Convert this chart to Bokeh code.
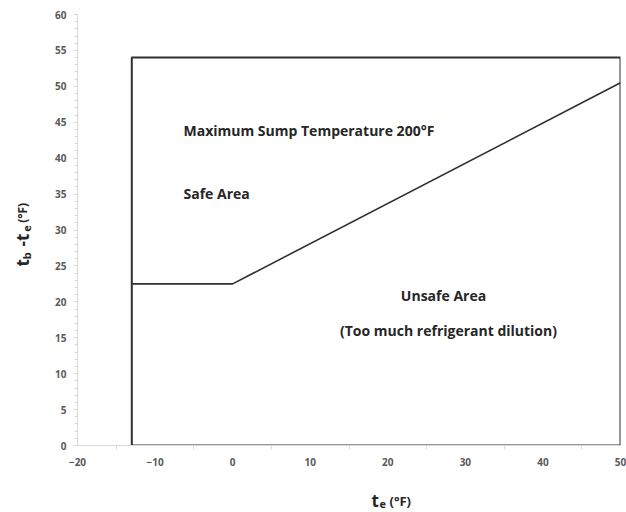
import math
from bokeh.plotting import figure
from bokeh.layouts import column, row
from bokeh.models import Range1d, FixedTicker, Label
from bokeh.core.properties import value
from bokeh.embed import file_html
from bokeh.resources import INLINE

# ---- data ----
x_ticks = [-20, -10, 0, 10, 20, 30, 40, 50]
x_minor = [-15, -5, 5, 15, 25, 35, 45]
y_ticks = [0, 5, 10, 15, 20, 25, 30, 35, 40, 45, 50, 55, 60]
y_minor = list(range(0, 61))

box_x = [-13, -13, 50, 50, -13]      # operating envelope (evaporator temp)
box_y = [0, 54, 54, 0, 0]            # tb - te limit: max sump temp 200F
limit_x = [-13, 0, 50]
limit_y = [22.5, 22.5, 50.5]

notes = ["Maximum Sump Temperature 200°F", "Safe Area", "Unsafe Area",
         "(Too much refrigerant dilution)"]

# ---- layout (page pixels) ----
PW, PH = 626, 512
YLW = 40            # width of y-label strip
MH = 472            # height of main figure
XLH = PH - MH       # height of x-label strip
MW = PW - YLW

FX0, FX1, FY0, FY1 = 77, 620, 14, 445   # frame edges on page
L = FX0 - YLW
R = PW - FX1
T = FY0
B = MH - FY1
X0, X1, Y0, Y1 = -20, 50, 0, 60
kx = (FX1 - FX0) / (X1 - X0)
ky = (FY1 - FY0) / (Y1 - Y0)


def dx(px):  # page px -> data x
    return X0 + (px - FX0) / kx


def dy(py):  # page py -> data y
    return Y0 + (FY1 - py) / ky


FONT = "Open Sans"
AX = "#d9d9d9"
TXT = "#595959"
NC = "#262626"

p = figure(width=MW, height=MH, x_range=Range1d(X0, X1), y_range=Range1d(Y0, Y1),
           output_backend="svg", toolbar_location=None,
           min_border_left=L, min_border_right=R, min_border_top=T, min_border_bottom=B)
p.outline_line_color = None
p.xgrid.visible = False
p.ygrid.visible = False
p.background_fill_color = "white"
p.border_fill_color = "white"

p.xaxis.ticker = FixedTicker(ticks=x_ticks, minor_ticks=x_minor)
p.yaxis.ticker = FixedTicker(ticks=y_ticks, minor_ticks=y_minor)
for ax in (p.xaxis, p.yaxis):
    ax.axis_line_color = AX
    ax.axis_line_width = 1
    ax.major_tick_line_color = AX
    ax.minor_tick_line_color = AX
    ax.major_tick_in = 0
    ax.minor_tick_in = 0
    ax.major_label_text_font = FONT
    ax.major_label_text_font_style = "bold"
    ax.major_label_text_font_size = "10px"
    ax.major_label_text_color = TXT
p.yaxis.major_tick_out = 4
p.yaxis.minor_tick_out = 3
p.xaxis.major_tick_out = 0
p.xaxis.minor_tick_out = 4
p.yaxis.major_label_standoff = 7
p.xaxis.major_label_standoff = 8

# envelope box and limit line
p.line(box_x, box_y, line_color="#303030", line_width=2)
p.line(limit_x, limit_y, line_color="#303030", line_width=1.6)

# annotations inside the frame
NS = "14px"
p.add_layout(Label(x=dx(183), y=dy(130), text=notes[0], text_font=FONT, text_font_style="bold",
                   text_font_size=NS, text_color=NC, text_baseline="middle", text_align="left"))
p.add_layout(Label(x=dx(183), y=dy(193), text=notes[1], text_font=FONT, text_font_style="bold",
                   text_font_size=NS, text_color=NC, text_baseline="middle", text_align="left"))
p.add_layout(Label(x=dx(443), y=dy(295), text=notes[2], text_font=FONT, text_font_style="bold",
                   text_font_size=NS, text_color=NC, text_baseline="middle", text_align="center"))
p.add_layout(Label(x=dx(448), y=dy(330), text=notes[3], text_font=FONT, text_font_style="bold",
                   text_font_size=NS, text_color=NC, text_baseline="middle", text_align="center"))


def strip(w, h):
    f = figure(width=w, height=h, x_range=Range1d(0, w), y_range=Range1d(0, h),
               output_backend="svg", toolbar_location=None,
               min_border=0, min_border_left=0, min_border_right=0,
               min_border_top=0, min_border_bottom=0)
    f.axis.visible = False
    f.xgrid.visible = False
    f.ygrid.visible = False
    f.outline_line_color = None
    f.background_fill_color = "white"
    f.border_fill_color = "white"
    return f


def piece(f, top, text, px, py, size, angle=0.0):
    f.text(x=[px], y=[top - py], text=[text], angle=angle,
           text_font=value(FONT), text_font_style="bold", text_font_size=size,
           text_color=NC, text_baseline="alphabetic", text_align="left")


# y axis label strip: t_b -t_e (°F), rotated
ylab = strip(YLW, MH)
A = math.pi / 2
piece(ylab, MH, "t", 22, 276, "17px", A)
piece(ylab, MH, "b", 26, 268, "11px", A)
piece(ylab, MH, "-t", 22, 254, "17px", A)
piece(ylab, MH, "e", 26, 238, "11px", A)
piece(ylab, MH, "(°F)", 22, 228, "12px", A)

# x axis label strip: t_e (°F)
xlab = strip(PW, XLH)
piece(xlab, PH, "t", 371, 500, "17px")
piece(xlab, PH, "e", 379, 503, "11px")
piece(xlab, PH, "(°F)", 389, 500, "13px")

layout = column(row(ylab, p), xlab)
open("out.html", "w").write(file_html(layout, INLINE))
